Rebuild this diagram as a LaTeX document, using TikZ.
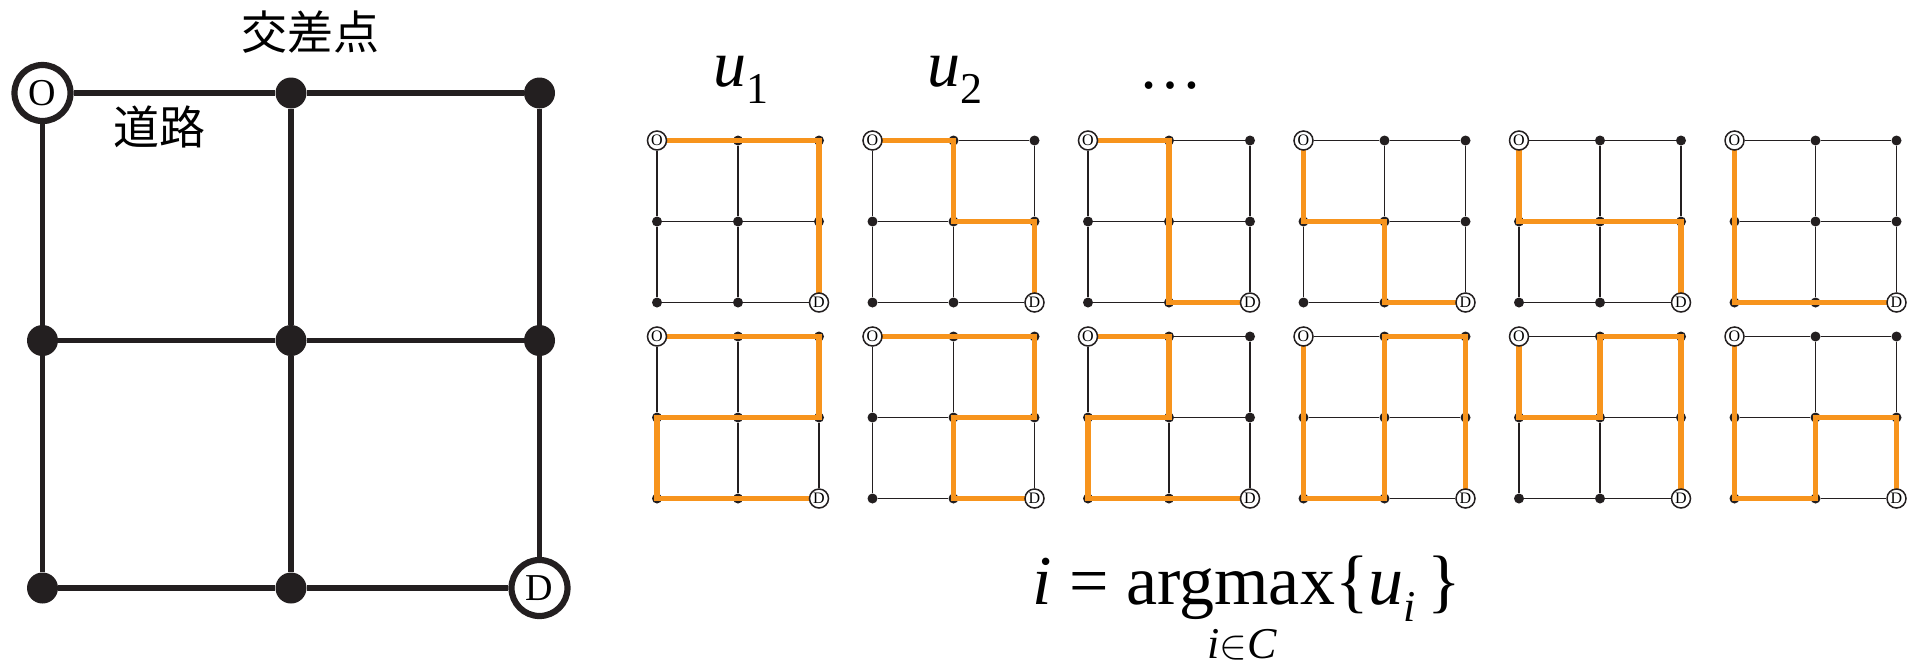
\documentclass[tikz,border=0pt]{standalone}
\usepackage{fontspec}
\setmainfont{Liberation Serif}
\newfontfamily\jpfont{Noto Sans CJK JP}
\definecolor{roadblack}{RGB}{35,31,32}
\definecolor{routeorange}{RGB}{247,148,29}
\newcommand{\lowidx}[1]{\raisebox{-8.5pt}{\fontsize{22}{22}\selectfont #1}}

\pgfdeclarelayer{road}
\pgfdeclarelayer{route}
\pgfdeclarelayer{ends}
\pgfsetlayers{road,main,route,ends}

\tikzset{
  bigdot/.style={circle, fill=roadblack, minimum size=15.5pt, inner sep=0pt},
  bigend/.style={circle, draw=roadblack, line width=3.1pt, fill=white, minimum size=28pt, inner sep=0pt, font=\fontsize{19}{19}\selectfont},
  smalldot/.style={circle, fill=roadblack, minimum size=5pt, inner sep=0pt},
  smallend/.style={circle, draw=roadblack, line width=0.75pt, fill=white, minimum size=9.5pt, inner sep=0pt, font=\fontsize{8}{8}\selectfont},
  bigroad/.style={line width=2.9pt, roadblack},
  smallroad/.style={line width=0.8pt, roadblack},
  chosen/.style={line width=2.9pt, routeorange},
}

\begin{document}
\begin{tikzpicture}[x=0.5pt, y=-0.5pt]
    \useasboundingbox (0,0) rectangle (1918,666);

    % network
    \foreach \c/\r in {1/0,2/0,0/1,1/1,2/1,0/2,1/2}
        \node[bigdot] (b\c\r) at (42.5+248.5*\c, 93+247.5*\r) {};
    \node[bigend] (b00) at (42.5,93) {O};
    \node[bigend] (b22) at (539.5,588) {D};
    \begin{pgfonlayer}{road}
        \foreach \a/\b in {0/1,1/2}
            \foreach \m in {0,1,2} {
                \draw[bigroad] (b\a\m) -- (b\b\m);
                \draw[bigroad] (b\m\a) -- (b\m\b);
            }
    \end{pgfonlayer}
    \node[font=\jpfont\fontsize{23}{23}\selectfont] (crossing) at (310,32) {交差点};
    \node[font=\jpfont\fontsize{23}{23}\selectfont] (road) at (159,127) {道路};

    % routes
    \foreach \k/\route in {1/{10,20,21,22}, 2/{10,11,21,22}, 3/{10,11,12,22},
        4/{01,11,12,22}, 5/{01,11,21,22}, 6/{01,02,12,22},
        7/{10,20,21,11,01,02,12,22}, 8/{10,20,21,11,12,22}, 9/{10,11,01,02,12,22},
        10/{01,02,12,11,10,20,21,22}, 11/{01,11,10,20,21,22}, 12/{01,02,12,11,21,22}} {
        \pgfmathsetmacro{\gx}{657+215.5*mod(\k-1,6)}
        \pgfmathsetmacro{\gy}{140.5+196*int((\k-1)/6)}
        \begin{scope}[shift={(\gx,\gy)}]
            \foreach \c/\r in {1/0,2/0,0/1,1/1,2/1,0/2,1/2}
                \node[smalldot] (s\k-\c\r) at (81*\c,81*\r) {};
            \begin{pgfonlayer}{ends}
                \node[smallend] (s\k-00) at (0,0) {O};
                \node[smallend] (s\k-22) at (162,162) {D};
            \end{pgfonlayer}
            \begin{pgfonlayer}{road}
                \foreach \a/\b in {0/1,1/2}
                    \foreach \m in {0,1,2} {
                        \draw[smallroad] (s\k-\a\m) -- (s\k-\b\m);
                        \draw[smallroad] (s\k-\m\a) -- (s\k-\m\b);
                    }
            \end{pgfonlayer}
            \begin{pgfonlayer}{route}
                \draw[chosen] (s\k-00.center) \foreach \p in \route {-- (s\k-\p.center)};
            \end{pgfonlayer}
        \end{scope}
    }

    \node[anchor=base west, inner sep=0pt, font=\fontsize{33}{33}\selectfont] (u1) at (713,86) {\textit{u}\lowidx{1}};
    \node[anchor=base west, inner sep=0pt, font=\fontsize{33}{33}\selectfont] (u2) at (927,86) {\textit{u}\lowidx{2}};
    \node[anchor=base, inner sep=0pt, font=\fontsize{32}{32}\selectfont] (more) at (1170,88) {…};
    \node[anchor=base west, inner sep=0pt, font=\fontsize{35}{35}\selectfont] (best) at (1032,604)
        {\textit{i} = argmax\{\textit{u}\lowidx{\textit{i}}\,\}};
    \node[anchor=base, inner sep=0pt, font=\fontsize{22}{22}\selectfont] (set) at (1242,658) {\textit{i}$\in$\textit{C}};
\end{tikzpicture}
\end{document}
